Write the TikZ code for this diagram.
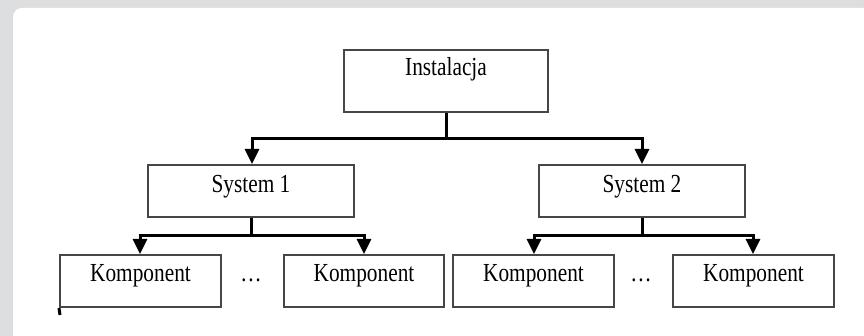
\documentclass[tikz,border=0pt]{standalone}
\usepackage{fontspec}
\setmainfont{Liberation Serif}
\newfontfamily\condfont[FakeStretch=0.82]{Liberation Serif}
\usetikzlibrary{arrows.meta}
\definecolor{bgcol}{RGB}{221,222,224}
\definecolor{boxline}{RGB}{70,70,70}
\tikzset{
  box/.style={draw=boxline, line width=2pt, fill=white, inner sep=0pt},
  lbl/.style={anchor=base, inner sep=0pt, font=\condfont\fontsize{26}{30}\selectfont},
  conn/.style={draw=black, line width=3pt, -{Triangle[width=14pt,length=15pt]}},
  plain/.style={draw=black, line width=3pt}
}
\begin{document}
\begin{tikzpicture}[x=1pt,y=-1pt]
\useasboundingbox (0,0) rectangle (864,336);
\fill[bgcol] (0,0) rectangle (864,336);
\fill[white, rounded corners=9pt] (13,8) rectangle (872,344);
% boxes
\node[box, minimum width=204pt, minimum height=62pt] (inst) at (446,81) {};
\node[box, minimum width=206pt, minimum height=52pt] (sys1) at (251,191) {};
\node[box, minimum width=206pt, minimum height=52pt] (sys2) at (642,191) {};
\node[box, minimum width=161pt, minimum height=52pt] (k1) at (140.5,281) {};
\node[box, minimum width=160pt, minimum height=52pt] (k2) at (364,281) {};
\node[box, minimum width=161pt, minimum height=52pt] (k3) at (533.5,281) {};
\node[box, minimum width=161pt, minimum height=52pt] (k4) at (753.5,281) {};
% labels
\node[lbl] (instT) at (446,76) {Instalacja};
\node[lbl] (sys1T) at (251,193) {System 1};
\node[lbl] (sys2T) at (642,193) {System 2};
\node[lbl] (k1T) at (140.5,282) {Komponent};
\node[lbl] (k2T) at (364,282) {Komponent};
\node[lbl] (k3T) at (533.5,282) {Komponent};
\node[lbl] (k4T) at (753.5,282) {Komponent};
\node[lbl] (dots1) at (251,282) {…};
\node[lbl] (dots2) at (641,282) {…};
% connectors
\coordinate (b0) at (446,139);
\coordinate (b1) at (251,236);
\coordinate (b2) at (642,236);
\draw[plain] (inst.south) -- (b0);
\draw[conn] (b0) -| ([xshift=1pt]sys1.north);
\draw[conn] (b0) -| (sys2.north);
\draw[plain] (sys1.south) -- (b1);
\draw[conn] (b1) -| ([xshift=-0.5pt]k1.north);
\draw[conn] (b1) -| (k2.north);
\draw[plain] (sys2.south) -- (b2);
\draw[conn] (b2) -| ([xshift=0.5pt]k3.north);
\draw[conn] (b2) -| ([xshift=-0.5pt]k4.north);
\coordinate (tick) at (60,315);
\draw[plain] (k1.south west) -- (tick);
\end{tikzpicture}
\end{document}
